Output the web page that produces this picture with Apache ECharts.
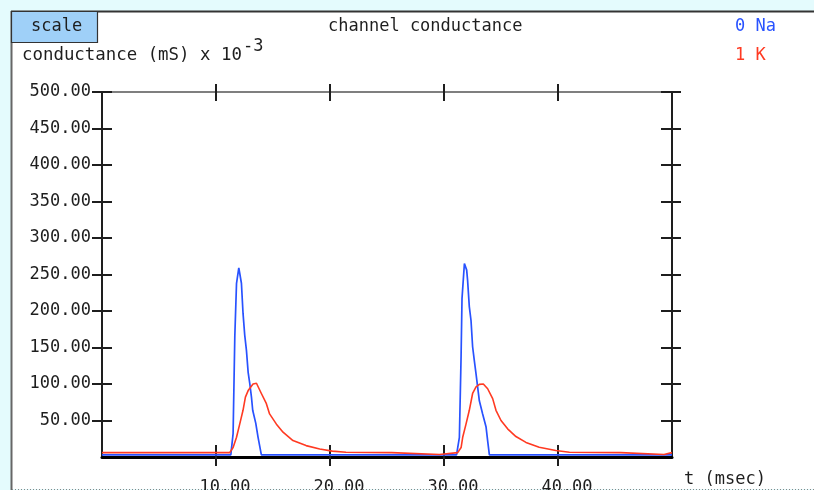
<!DOCTYPE html>
<html>
<head>
<meta charset="utf-8">
<script src="https://cdn.jsdelivr.net/npm/echarts@6/dist/echarts.min.js"></script>
<style>html,body{margin:0;padding:0;background:#e4fbfd;}#c{width:814px;height:490px;}</style>
</head>
<body>
<div id="c"></div>
<script>
// ---- data ----
const naTime = [0, 11.3, 11.5, 11.65, 11.8, 12.0, 12.1, 12.23, 12.37, 12.52, 12.67, 12.82, 12.96, 13.11, 13.22, 13.49, 13.69, 13.98,
                31.1, 31.35, 31.5, 31.58, 31.79, 31.99, 32.07, 32.22, 32.37, 32.51, 32.66, 32.81, 32.95, 33.1, 33.39, 33.69, 33.83, 33.98, 50];
const naValues = [3, 3, 32, 165, 238, 259, 250, 238, 197, 167, 146, 116, 101, 82, 64, 46, 27, 3,
                  3, 27, 139, 217, 265, 256, 242, 206, 187, 151, 132, 114, 96, 77, 59, 41, 22, 3, 3];
const kTime = [0, 11.2, 11.5, 11.8, 12.08, 12.37, 12.58, 12.82, 13.25, 13.55, 13.98, 14.42, 14.7, 15.3, 15.88, 16.75, 17.9, 19.1, 20.2, 21.4,
               25.4, 25.5, 29.6, 29.7, 31.2, 31.5, 31.64, 31.93, 32.22, 32.51, 32.81, 33.1, 33.45, 33.83, 34.27, 34.56, 35.0, 35.58, 36.31,
               37.19, 38.35, 39.8, 41.0, 45.5, 45.6, 49.3, 49.4, 50];
const kValues = [6, 6, 13, 27, 45, 64, 82, 91, 100, 101, 87, 73, 59, 45, 34, 22.5, 15.6, 11, 8, 6.5,
                 6, 3.5, 3.5, 6, 6, 13, 27, 45, 64, 87, 96, 99.5, 100, 93.5, 80, 64, 50, 38.6, 28,
                 20, 13.3, 8.8, 6.5, 6, 3.5, 3.5, 6, 6];
const seriesNames = ['Na', 'K'];
const yTicks = [50, 100, 150, 200, 250, 300, 350, 400, 450, 500];
const xTicks = [10, 20, 30, 40];

const FONT = 'DejaVu Sans Mono';
const BLUE = '#2852ff';
const RED = '#ff3a22';
const INK = '#1e1e1e';

function zip(a, b) { return a.map((v, i) => [v, b[i]]); }

const xBase = { type: 'value', min: 0, max: 50, interval: 10, gridIndex: 0, splitLine: { show: false } };
const yBase = { type: 'value', min: 0, max: 500, interval: 50, gridIndex: 0, splitLine: { show: false } };

const chart = echarts.init(document.getElementById('c'), null, { renderer: 'canvas' });
chart.setOption({
  backgroundColor: '#e4fbfd',
  animation: false,
  textStyle: { fontFamily: FONT },
  title: {
    text: 'channel conductance', left: 323, top: 13,
    textStyle: { fontFamily: FONT, fontSize: 17, fontWeight: 'normal', color: INK }
  },
  legend: {
    orient: 'vertical', left: 725, top: 12, icon: 'none', itemWidth: 0, itemHeight: 20, itemGap: 10,
    selectedMode: false,
    formatter: function (name) { return seriesNames.indexOf(name) + ' ' + name; },
    data: [
      { name: 'Na', textStyle: { color: BLUE, fontFamily: FONT, fontSize: 17 } },
      { name: 'K', textStyle: { color: RED, fontFamily: FONT, fontSize: 17 } }
    ]
  },
  grid: { left: 102, right: 142, top: 92, bottom: 33, containLabel: false, outerBoundsMode: 'none' },
  xAxis: [
    Object.assign({}, xBase, {
      position: 'bottom',
      axisLine: { show: true, onZero: false, lineStyle: { color: '#000', width: 3 } },
      axisTick: { show: true, inside: false, length: 9, customValues: xTicks, lineStyle: { color: INK, width: 2 } },
      axisLabel: { show: true, customValues: xTicks, margin: 22, padding: [0, 0, 0, 18],
                   formatter: v => v.toFixed(2), fontFamily: FONT, fontSize: 17, color: INK },
      name: 't (msec)', nameLocation: 'end', nameGap: 12,
      nameTextStyle: { fontFamily: FONT, fontSize: 17, color: INK, align: 'left', verticalAlign: 'top', padding: [14, 0, 0, 0] }
    }),
    Object.assign({}, xBase, {
      position: 'bottom',
      axisLine: { show: false, onZero: false },
      axisTick: { show: true, inside: true, length: 12, customValues: xTicks, lineStyle: { color: INK, width: 2 } },
      axisLabel: { show: false }
    }),
    Object.assign({}, xBase, {
      position: 'top',
      axisLine: { show: true, onZero: false, lineStyle: { color: '#555', width: 1.5 } },
      axisTick: { show: true, inside: false, length: 8, customValues: xTicks, lineStyle: { color: INK, width: 2 } },
      axisLabel: { show: false }
    }),
    Object.assign({}, xBase, {
      position: 'top',
      axisLine: { show: false, onZero: false },
      axisTick: { show: true, inside: true, length: 9, customValues: xTicks, lineStyle: { color: INK, width: 2 } },
      axisLabel: { show: false }
    })
  ],
  yAxis: [
    Object.assign({}, yBase, {
      position: 'left',
      axisLine: { show: true, onZero: false, lineStyle: { color: INK, width: 2 } },
      axisTick: { show: true, inside: false, length: 10, customValues: yTicks, lineStyle: { color: INK, width: 2 } },
      axisLabel: { show: true, customValues: yTicks, margin: 11, padding: [8, 0, 0, 0],
                   formatter: v => v.toFixed(2), fontFamily: FONT, fontSize: 17, color: INK }
    }),
    Object.assign({}, yBase, {
      position: 'left',
      axisLine: { show: false, onZero: false },
      axisTick: { show: true, inside: true, length: 10, customValues: yTicks, lineStyle: { color: INK, width: 2 } },
      axisLabel: { show: false }
    }),
    Object.assign({}, yBase, {
      position: 'right',
      axisLine: { show: true, onZero: false, lineStyle: { color: INK, width: 2 } },
      axisTick: { show: true, inside: false, length: 9, customValues: yTicks, lineStyle: { color: INK, width: 2 } },
      axisLabel: { show: false }
    }),
    Object.assign({}, yBase, {
      position: 'right',
      axisLine: { show: false, onZero: false },
      axisTick: { show: true, inside: true, length: 11, customValues: yTicks, lineStyle: { color: INK, width: 2 } },
      axisLabel: { show: false }
    })
  ],
  series: [
    { name: 'Na', type: 'line', xAxisIndex: 0, yAxisIndex: 0, showSymbol: false, symbol: 'none',
      data: zip(naTime, naValues), color: BLUE, lineStyle: { color: BLUE, width: 1.7 }, z: 3 },
    { name: 'K', type: 'line', xAxisIndex: 0, yAxisIndex: 0, showSymbol: false, symbol: 'none',
      data: zip(kTime, kValues), color: RED, lineStyle: { color: RED, width: 1.6 }, z: 4 }
  ],
  graphic: [
    { type: 'rect', z: -10, shape: { x: 12, y: 12, width: 802, height: 477 }, style: { fill: '#ffffff' } },
    { type: 'line', z: -5, shape: { x1: 11, y1: 11.5, x2: 814, y2: 11.5 }, style: { stroke: '#333', lineWidth: 2 } },
    { type: 'line', z: -5, shape: { x1: 11.5, y1: 11, x2: 11.5, y2: 490 }, style: { stroke: '#666', lineWidth: 2 } },
    { type: 'line', z: -5, shape: { x1: 12, y1: 489.5, x2: 814, y2: 489.5 }, style: { stroke: '#888', lineWidth: 1, lineDash: [1, 2] } },
    { type: 'rect', z: -4, shape: { x: 11.5, y: 11.5, width: 86, height: 31 }, style: { fill: '#9fd0f8', stroke: '#333', lineWidth: 1.2 } },
    { type: 'text', z: -3, left: 31, top: 18, style: { text: 'scale', font: '17px "DejaVu Sans Mono"', fill: INK } },
    { type: 'text', z: -3, left: 22, top: 47, style: { text: 'conductance (mS) x 10', font: '17.4px "DejaVu Sans Mono"', fill: INK } },
    { type: 'text', z: -3, left: 243, top: 38, style: { text: '-3', font: '17px "DejaVu Sans Mono"', fill: INK } }
  ]
});
</script>
</body>
</html>
